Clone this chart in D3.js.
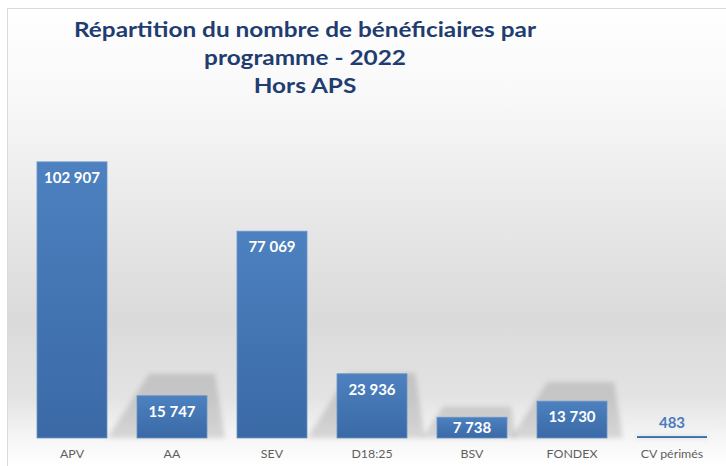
<!DOCTYPE html>
<html>
<head>
<meta charset="utf-8">
<script src="https://cdn.jsdelivr.net/npm/d3@7"></script>
<style>
  html, body { margin: 0; padding: 0; background: #ffffff; }
  svg { display: block; }
</style>
</head>
<body>
<script>
// ---- Data ----
const titleLines = ["Répartition du nombre de bénéficiaires par", "programme - 2022", "Hors APS"];
const categories = ["APV", "AA", "SEV", "D18:25", "BSV", "FONDEX", "CV périmés"];
const values = [102907, 15747, 77069, 23936, 7738, 13730, 483];

const W = 726, H = 466;
const baseY = 438;
const fr = d3.formatLocale({decimal: ",", thousands: "\u202f", grouping: [3], currency: ["", " €"]});
const fmt = v => fr.format(",d")(v).replace(/\u202f/g, " ");

const svg = d3.select("body").append("svg").attr("width", W).attr("height", H);
const defs = svg.append("defs");

// background gradient
const bg = defs.append("linearGradient").attr("id", "bg").attr("x1", 0).attr("y1", 0).attr("x2", 0).attr("y2", 1);
[[0, "#ffffff"], [0.2, "#f8f8f8"], [0.45, "#e8e8e8"], [0.68, "#dadada"], [0.85, "#e3e3e3"], [0.94, "#f6f6f6"], [1, "#ffffff"]]
  .forEach(([o, c]) => bg.append("stop").attr("offset", o).attr("stop-color", c));

const bar = defs.append("linearGradient").attr("id", "bar").attr("x1", 0).attr("y1", 0).attr("x2", 0).attr("y2", 1);
[[0, "#4d81c0"], [1, "#3a69a6"]].forEach(([o, c]) => bar.append("stop").attr("offset", o).attr("stop-color", c));

const blur = defs.append("filter").attr("id", "blur").attr("x", "-20%").attr("y", "-20%").attr("width", "140%").attr("height", "140%");
blur.append("feGaussianBlur").attr("stdDeviation", 2.5);

// frame
svg.append("rect").attr("x", 7).attr("y", 8).attr("width", W - 7).attr("height", H - 8).attr("fill", "url(#bg)");
svg.append("line").attr("x1", 7).attr("x2", W).attr("y1", 8.5).attr("y2", 8.5).attr("stroke", "#dadada");
svg.append("line").attr("x1", 7.5).attr("x2", 7.5).attr("y1", 8).attr("y2", H).attr("stroke", "#dadada");

// scales
const x = d3.scaleBand().domain(categories).range([22, 722]).paddingInner(0.3).paddingOuter(0.15);
const y = d3.scaleLinear().domain([0, 120000]).range([baseY, 116]);

const data = categories.map((c, i) => ({c, v: values[i]}));

// shadows (perspective shadow behind short bars)
const sh = svg.append("g").attr("filter", "url(#blur)");
sh.selectAll("path").data(data.filter(d => baseY - y(d.v) < 100)).join("path")
  .attr("d", d => {
    const x0 = x(d.c), x1 = x0 + x.bandwidth(), t = y(d.v), h = baseY - t;
    const top = Math.max(t - 0.52 * h, baseY - 65);
    const k = Math.min(1, h / 42);
    return `M${x0 - 30 * k},${baseY} L${x0 + 12 * k},${top} L${x1 + 8 * k},${top} L${x1 + 18 * k},${baseY} Z`;
  })
  .attr("fill", "#000").attr("fill-opacity", 0.13);

// bars
svg.append("g").selectAll("rect").data(data).join("rect")
  .attr("x", d => x(d.c))
  .attr("width", x.bandwidth())
  .attr("y", d => Math.min(y(d.v), baseY - 2))
  .attr("height", d => Math.max(baseY - y(d.v), 2))
  .attr("fill", "url(#bar)")
  .attr("stroke", d => baseY - y(d.v) > 4 ? "#6b95c9" : "none")
  .attr("stroke-width", 0.8);

// value labels
svg.append("g").selectAll("text").data(data).join("text")
  .attr("x", d => x(d.c) + x.bandwidth() / 2)
  .attr("y", d => {
    const t = y(d.v), h = baseY - t;
    if (h < 12) return t - 9;
    return Math.min(t + 21, t + h / 2 + 5);
  })
  .attr("text-anchor", "middle")
  .attr("font-family", "Lato, 'Open Sans', sans-serif")
  .attr("font-weight", 700)
  .attr("font-size", 15)
  .attr("fill", d => (baseY - y(d.v)) < 12 ? "#4a7cbb" : "#ffffff")
  .text(d => fmt(d.v));

// category axis labels
svg.append("g").selectAll("text").data(categories).join("text")
  .attr("transform", c => `translate(${x(c) + x.bandwidth() / 2},458) scale(1.18,1)`)
  .attr("text-anchor", "middle")
  .attr("font-family", "Lato, 'Open Sans', sans-serif")
  .attr("font-size", 10.5)
  .attr("fill", "#5f5f5f")
  .text(c => c);

// title
svg.append("g").selectAll("text").data(titleLines).join("text")
  .attr("transform", (d, i) => `translate(305,${37 + i * 28}) scale(1.16,1)`)
  .attr("text-anchor", "middle")
  .attr("font-family", "Lato, 'Open Sans', sans-serif")
  .attr("font-weight", 700)
  .attr("font-size", 21)
  .attr("fill", "#1f3d70")
  .text(d => d);
</script>
</body>
</html>
